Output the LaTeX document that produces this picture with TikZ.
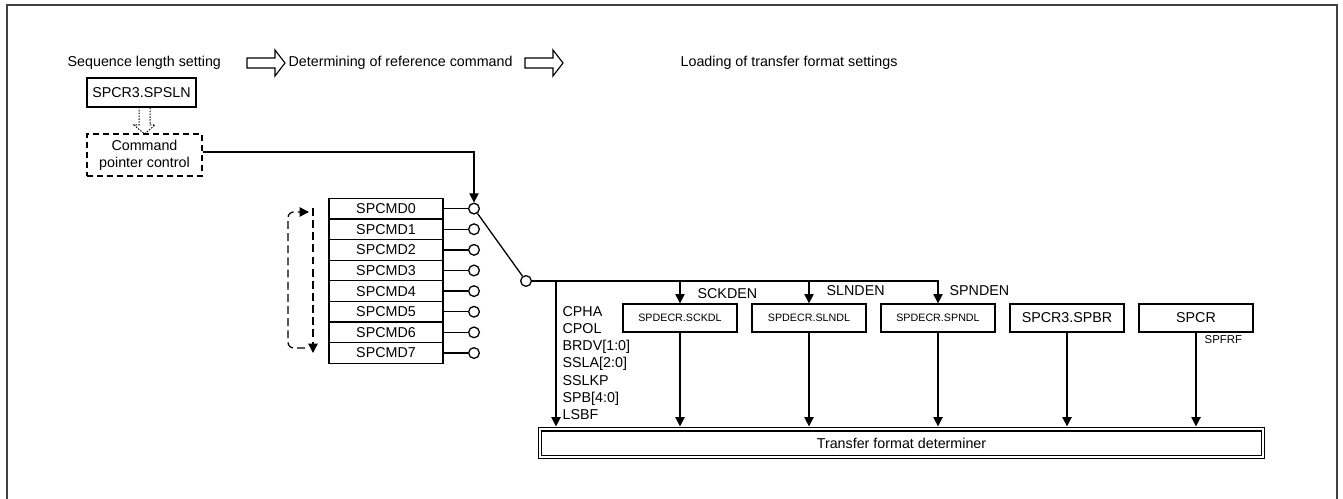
\documentclass[tikz,border=0pt]{standalone}
\usepackage{fontspec}
\setmainfont{Liberation Sans}
\usetikzlibrary{arrows.meta, positioning, calc}

\newcommand{\hollowarrow}[1]{%
  \draw[hollow] #1 ++(0,-5) -- ++(28,0) -- ++(0,-8) -- ++(10,13) -- ++(-10,13) -- ++(0,-8) -- ++(-28,0) -- cycle;}

\begin{document}
\begin{tikzpicture}[
    x=0.7pt, y=-0.7pt,
    line width=0.9pt,
    box/.style={draw, minimum width=79.8pt, minimum height=19.6pt, inner sep=1pt, align=center},
    smallbox/.style={box, font=\fontsize{7.5}{9}\selectfont},
    cmdrow/.style={draw, minimum width=79.8pt, minimum height=14.44pt, inner sep=0pt, outer sep=0pt},
    port/.style={draw, circle, minimum size=7.5pt, inner sep=0pt, fill=white},
    lbl/.style={inner sep=0pt, anchor=west},
    hollow/.style={line width=0.8pt, line join=miter},
    cyclic/.style={dash pattern=on 5.5pt off 3pt},
    arr/.style={-{Triangle[length=6.5pt, width=6.5pt]}},
    tofd/.style={arr, shorten >=1.5pt},
    tfdbox/.style={draw, double, double distance=1.4pt, minimum width=505.9pt, minimum height=19.3pt},
    frame/.style={draw=black!75, line width=1.4pt}
]
\useasboundingbox (0,0) rectangle (1343,499);
\draw[frame] (7,499) -- (7,5) -- (1337,5) -- (1337,499);

% header
\node[lbl] (seqlen) at (67,63) {Sequence length setting};
\hollowarrow{(247,63)}
\node[lbl] (refcmd) at (288,63) {Determining of reference command};
\hollowarrow{(525,63)}
\node[lbl] (loadfmt) at (680,63) {Loading of transfer format settings};

% pointer control
\node[box, minimum width=76.3pt, minimum height=20.3pt] (spsln) at (141.5,92.5) {SPCR3.SPSLN};
\node[box, dash pattern=on 4.5pt off 2.5pt, minimum width=80.5pt, minimum height=29.4pt] (ptr) at (144.5,155) {Command\\pointer control};
\draw[dash pattern=on 1pt off 1pt, line width=0.7pt] (139,107) -- (139,125) -- (134,125) -- (144.5,134) -- (155,125) -- (150,125) -- (150,107);

% command registers
\foreach \i in {0,...,7} {
  \node[cmdrow] (cmd\i) at (386,{208.6+20.63*\i}) {SPCMD\i};
  \node[port] (c\i) at (474,{208.6+20.63*\i}) {};
  \draw (cmd\i) -- (c\i);
}
\draw[arr] ([yshift=2pt]ptr.east) -| (c0.north);

\coordinate (lpa) at (313,208);
\coordinate (lpb) at (313,353);
\coordinate (lpc) at (305,348);
\coordinate (lpd) at (309,212);
\draw[cyclic, arr] (lpa) -- (lpb);
\draw[cyclic, arr, rounded corners=4pt] (lpc) -- (288,348) -- (288,212) -- (lpd);

% switch
\node[port] (sw) at (526,281) {};
\draw (c0) -- (sw);

% format sources
\node[smallbox] (sckdl) at (680,318) {SPDECR.SCKDL};
\node[smallbox] (slndl) at (809,318) {SPDECR.SLNDL};
\node[smallbox] (spndl) at (938,318) {SPDECR.SPNDL};
\node[box] (spbr) at (1067,318) {SPCR3.SPBR};
\node[box] (spcr) at (1196,318) {SPCR};
\node[tfdbox] (tfd) at (901.5,443) {Transfer format determiner};

\draw[arr] (sw.east) -| (spndl.north);
\coordinate (bits) at (556,281);
\draw[tofd] (bits) -- (bits |- tfd.north);
\draw[arr] (sckdl.north |- sw) -- (sckdl.north);
\draw[arr] (slndl.north |- sw) -- (slndl.north);
\foreach \b in {sckdl,slndl,spndl,spbr,spcr}
  \draw[tofd] (\b.south) -- (\b.south |- tfd.north);

\node[lbl] (sckden) at (697,294) {SCKDEN};
\node[lbl] (slnden) at (826,291) {SLNDEN};
\node[lbl] (spnden) at (949,291) {SPNDEN};
\node[lbl, align=left] (fmtbits) at (562,363) {CPHA\\CPOL\\BRDV[1:0]\\SSLA[2:0]\\SSLKP\\SPB[4:0]\\LSBF};
\node[lbl, font=\fontsize{8}{9.6}\selectfont] (spfrf) at (1204,340) {SPFRF};
\end{tikzpicture}
\end{document}
